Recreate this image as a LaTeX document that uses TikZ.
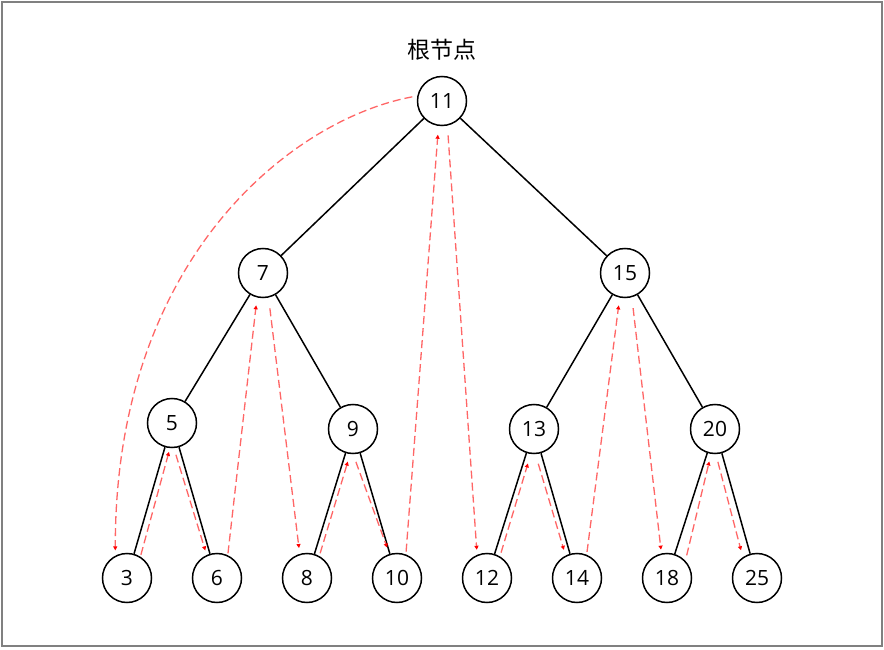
\documentclass[tikz,border=0pt]{standalone}
\usepackage{fontspec}
\setmainfont{Open Sans}
\newfontfamily\cjk{Noto Sans CJK SC}
\usepackage{tikz}
\usetikzlibrary{calc}
\usetikzlibrary{arrows.meta}

\begin{document}
\begin{tikzpicture}[x=1pt,y=1pt,
    key/.style={draw,circle,line width=1.5pt,minimum size=49pt,
      inner sep=0pt,font=\fontsize{21}{25}\selectfont},
    branch/.style={line width=1.5pt},
    thread/.style={draw=red!60,line width=1.3pt,dash pattern=on 8pt off 4pt,
      -{Triangle[length=4pt,width=4pt,color=red]}}]
      \useasboundingbox (0,0) rectangle (884,649);
      \draw[gray,line width=1.5pt] (2,3) rectangle (882,647);
      \node[font=\cjk\fontsize{23}{27}\selectfont] (root) at (442,599) {根节点};
      % keys
      \node[key] (n11) at (442,548) {11};
      \node[key] (n7) at (263,376) {7};
      \node[key] (n15) at (625,376) {15};
      \node[key] (n5) at (172,226) {5};
      \node[key] (n9) at (353,220) {9};
      \node[key] (n13) at (534,220) {13};
      \node[key] (n20) at (715,220) {20};
      \foreach \k/\x in {3/127,6/217,8/307,10/397,12/487,14/577,18/667,25/757}
        \node[key] (n\k) at (\x,71) {\k};
      % branches
      \foreach \a/\b in {11/7,11/15,7/5,7/9,15/13,15/20,5/3,5/6,9/8,9/10,13/12,13/14,20/18,20/25}
        \draw[branch] (n\a) -- (n\b);
      % threads
      \foreach \a/\sa/\sd/\b/\ea/\ed in {3/59/27/5/-96/29,5/-83/32/6/113/30,
          6/66/27/7/-102/33,7/-79/36/8/105/31,8/62/28/9/-99/33,
          9/-85/33/10/108/32,10/71/28/11/-97/34,11/-80/35/12/110/30,
          12/61/29/13/-100/35,13/-83/35/14/115/31,14/69/28/15/-101/33,
          15/-77/36/18/102/29,18/49/30/20/-100/33,20/-85/33/25/120/32}
        \draw[thread] ($(n\a)+(\sa:\sd)$) -- ($(n\b)+(\ea:\ed)$);
      \draw[thread] ($(n11)+(172:30)$) .. controls (290,529) and (115,389)
        .. ($(n3)+(113:30)$);
    \end{tikzpicture}
\end{document}
